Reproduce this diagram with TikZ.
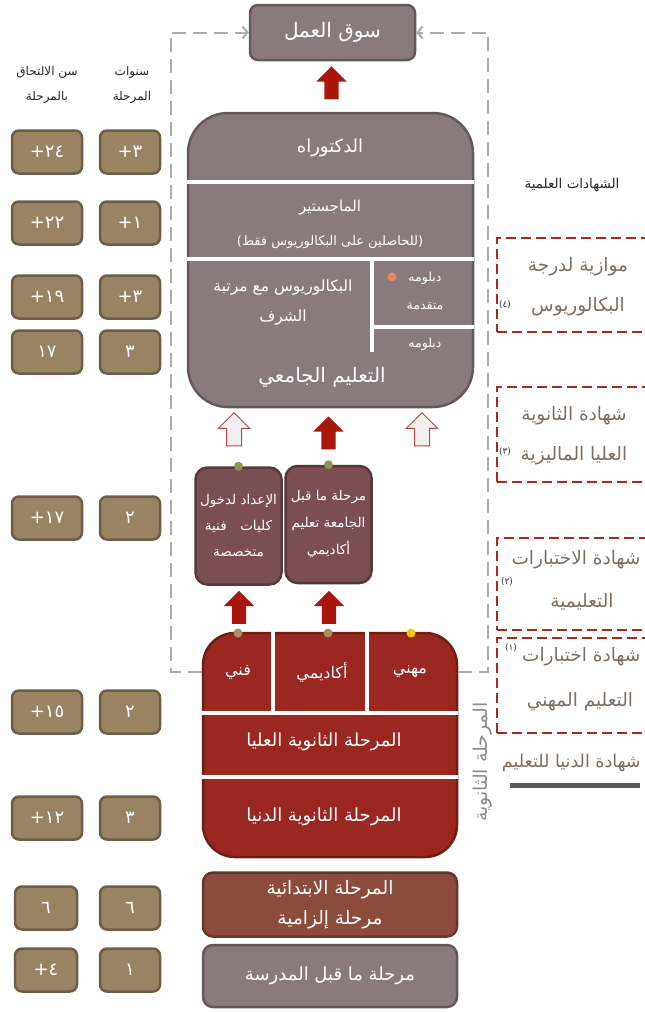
\documentclass[tikz,border=0pt]{standalone}
\usepackage{fontspec}
\newfontfamily\arabicfont[Script=Arabic]{DejaVu Sans}
\TeXXeTstate=1
\usetikzlibrary{arrows.meta,calc,shapes.arrows}
\definecolor{uniC}{RGB}{137,123,125}
\definecolor{prepC}{RGB}{122,78,82}
\definecolor{secC}{RGB}{155,40,32}
\definecolor{primC}{RGB}{140,76,60}
\definecolor{yearC}{RGB}{152,131,99}
\definecolor{arrowC}{RGB}{168,22,12}
\definecolor{certC}{RGB}{166,42,32}
\definecolor{certtext}{RGB}{125,110,100}
\definecolor{loopC}{RGB}{172,172,172}
\definecolor{dotG}{RGB}{140,150,80}
\definecolor{dotT}{RGB}{170,145,100}
\definecolor{dotY}{RGB}{245,200,0}
\definecolor{dotO}{RGB}{235,130,90}
\newcommand{\ar}[1]{{\arabicfont\beginR #1\endR}}
\newcommand{\fsz}[2]{\fontsize{#1}{#2}\selectfont}

\begin{document}
\begin{tikzpicture}[x=1pt,y=-1pt,
  stage/.style={draw=#1!72!black,fill=#1,line width=2.5pt,inner sep=0pt,text=white,align=center},
  yearbox/.style={stage=yearC,rounded corners=7pt,minimum width=#1,minimum height=43pt,font=\arabicfont\fsz{18}{20}},
  divider/.style={white,line width=4pt},
  loopline/.style={loopC,line width=2pt,dash pattern=on 14pt off 7pt},
  uparrow/.style={single arrow,rotate=90,minimum height=33pt,inner sep=7pt,single arrow head extend=8pt,fill=arrowC},
  ghostarrow/.style={uparrow,fill=gray!12,draw=red!45!gray,line width=1pt},
  cert/.style={draw=certC,line width=2.5pt,dash pattern=on 10pt off 5pt,minimum width=165pt,minimum height=#1},
  certlbl/.style={text=certtext,align=center,font=\fsz{18.5}{40}},
  certnote/.style={text=black!80,font=\arabicfont\fsz{9}{10}},
  inlbl/.style={text=white,align=center},
  dot/.style={circle,inner sep=0pt,minimum size=9pt,fill=#1},
  hdr/.style={text=black!85,align=center,font=\fsz{12}{25}}]
\useasboundingbox (0,0) rectangle (645,1012);

% labour market
\node[stage=uniC,rounded corners=8pt,minimum width=165pt,minimum height=55pt,font=\fsz{20}{22}] (market) at (332.5,32.5) {\ar{سوق العمل}};

% university
\node[stage=uniC,rounded corners=40pt,minimum width=285pt,minimum height=294pt] (uni) at (330.5,260) {};
\draw[divider] (uni.west|-0,182) -- (uni.east|-0,182);
\draw[divider] (uni.west|-0,259) -- (uni.east|-0,259);
\draw[divider] (372,259) -- (372,352);
\draw[divider] (372,327) -- (uni.east|-0,327);
\node[inlbl,font=\fsz{18}{20}] (phd) at (330,148) {\ar{الدكتوراه}};
\node[inlbl,font=\fsz{13}{34}] (master) at (330,224) {{\fsz{15}{34}\ar{الماجستير}}\\\ar{(للحاصلين على البكالوريوس فقط)}};
\node[inlbl,font=\fsz{15.5}{30}] (honours) at (283,302) {\ar{البكالوريوس مع مرتبة}\\\ar{الشرف}};
\node[dot=dotO] (advdot) at (392,277) {};
\node[inlbl,font=\fsz{12.5}{28}] (advdip) at (425,291) {\ar{دبلومه}\\\ar{متقدمة}};
\node[inlbl,font=\fsz{12.5}{14}] (dip) at (425,344) {\ar{دبلومه}};
\node[inlbl,font=\fsz{20}{22}] (unititle) at (322,377) {\ar{التعليم الجامعي}};

% pre-university
\node[stage=prepC,rounded corners=12pt,minimum width=86pt,minimum height=117pt,font=\fsz{13.5}{26}] (preptech) at (238.5,526) {\ar{الإعداد لدخول}\\\ar{كليات\quad فنية}\\\ar{متخصصة}};
\node[stage=prepC,rounded corners=12pt,minimum width=86pt,minimum height=117pt,font=\fsz{13.5}{27}] (prepacad) at (328.5,524.5) {\ar{مرحلة ما قبل}\\\ar{الجامعة تعليم}\\\ar{أكاديمي}};
\node[dot=dotG] (techdot) at (preptech.north) {};
\node[dot=dotG] (acaddot) at (prepacad.north) {};

% arrows
\node[uparrow] (toMarket) at ($(uni.north)!0.5!(market.south)$) {};
\node[uparrow] (toUni) at ($(prepacad.north)!0.5!(prepacad.north|-uni.south)$) {};
\node[ghostarrow] (toUniL) at (234,433) {};
\node[ghostarrow] (toUniR) at (422,433) {};
\node[uparrow] (toTech) at (239,611) {};
\node[uparrow] (toAcad) at (329,611) {};

% secondary
\node[stage=secC,rounded corners=32pt,minimum width=254pt,minimum height=224pt] (sec) at (330,745) {};
\draw[divider] (273,631) -- (273,713);
\draw[divider] (367,631) -- (367,713);
\draw[divider] (sec.west|-0,713) -- (sec.east|-0,713);
\draw[divider] (sec.west|-0,777) -- (sec.east|-0,777);
\node[inlbl,font=\fsz{16}{18}] (fani) at (238,672) {\ar{فني}};
\node[inlbl,font=\fsz{16}{18}] (akadimi) at (322,672) {\ar{أكاديمي}};
\node[inlbl,font=\fsz{16}{18}] (mihani) at (410,672) {\ar{مهني}};
\node[inlbl,font=\fsz{18}{20}] (upper) at (324,742) {\ar{المرحلة الثانوية العليا}};
\node[inlbl,font=\fsz{18}{20}] (lower) at (324,817) {\ar{المرحلة الثانوية الدنيا}};
\node[dot=dotT] (fanidot) at (238,633) {};
\node[dot=dotT] (akadot) at (328,633) {};
\node[dot=dotY] (mihdot) at (411,633) {};
\node[text=black!45,rotate=90,font=\fsz{19}{21}] (sectag) at (483,762) {\ar{المرحلة الثانوية}};

% feedback to the market
\draw[loopline,-{Straight Barb[length=5pt,width=12pt]}] (sec.west|-fani) -- ++(-31,0) |- (market.west);
\draw[loopline,-{Straight Barb[length=5pt,width=12pt]}] (sec.east|-mihani) -- ++(30,0) |- (market.east);

% primary and pre-school
\node[stage=primC,rounded corners=10pt,minimum width=254pt,minimum height=64pt,font=\fsz{18.5}{30}] (prim) at (330,904.5) {\ar{المرحلة الابتدائية}\\\ar{مرحلة إلزامية}};
\node[stage=uniC,rounded corners=10pt,minimum width=254pt,minimum height=62pt,font=\fsz{18}{20}] (presch) at (330,976) {\ar{مرحلة ما قبل المدرسة}};

% years and ages
\node[hdr] (yrshdr) at (132,85) {\ar{سنوات}\\\ar{المرحلة}};
\node[hdr] (agehdr) at (47,85) {\ar{سن الالتحاق}\\\ar{بالمرحلة}};
\node[yearbox=60pt] (yrs1) at (130,152) {٣+};
\node[yearbox=70pt] (age1) at (47,152) {٢٤+};
\node[yearbox=60pt] (yrs2) at (130,223) {١+};
\node[yearbox=70pt] (age2) at (47,223) {٢٢+};
\node[yearbox=60pt] (yrs3) at (130,297) {٣+};
\node[yearbox=70pt] (age3) at (47,297) {١٩+};
\node[yearbox=60pt] (yrs4) at (130,352) {٣};
\node[yearbox=70pt] (age4) at (47,352) {١٧};
\node[yearbox=60pt] (yrs5) at (130,518) {٢};
\node[yearbox=70pt] (age5) at (47,518) {١٧+};
\node[yearbox=60pt] (yrs6) at (130,712) {٢};
\node[yearbox=70pt] (age6) at (47,712) {١٥+};
\node[yearbox=60pt] (yrs7) at (130,818) {٣};
\node[yearbox=70pt] (age7) at (47,818) {١٢+};
\node[yearbox=60pt] (yrs8) at (130,908) {٦};
\node[yearbox=62pt] (age8) at (46,908) {٦};
\node[yearbox=60pt] (yrs9) at (130,970) {١};
\node[yearbox=62pt] (age9) at (46,970) {٤+};

% certificates
\node[hdr,font=\fsz{13.5}{15}] (certhdr) at (572,185) {\ar{الشهادات العلمية}};
\node[cert=94pt] (cert4) at (579.5,285) {};
\node[certlbl] (cert4txt) at (578,287) {\ar{موازية لدرجة}\\\ar{البكالوريوس}};
\node[certnote] (note4) at (505,305) {(٤)};
\node[cert=95pt] (cert3) at (579.5,434.5) {};
\node[certlbl] (cert3txt) at (574,436) {\ar{شهادة الثانوية}\\\ar{العليا الماليزية}};
\node[certnote] (note3) at (505,452) {(٣)};
\node[cert=92pt] (cert2) at (579.5,584) {};
\node[certlbl,anchor=east] (cert2a) at (644,560) {\ar{شهادة الاختبارات}};
\node[certlbl] (cert2b) at (582,602) {\ar{التعليمية}};
\node[certnote] (note2) at (507,582) {(٢)};
\node[cert=95pt] (cert1) at (579.5,685.5) {};
\node[certlbl,anchor=east] (cert1a) at (644,657) {\ar{شهادة اختبارات}};
\node[certlbl] (cert1b) at (580,702) {\ar{التعليم المهني}};
\node[certnote] (note1) at (511,648) {(١)};
\node[certlbl,anchor=east,font=\fsz{17.5}{20}] (lowcert) at (644,763) {\ar{شهادة الدنيا للتعليم}};
\draw[line width=5pt,black!65] (510,785) -- (640,785);
\end{tikzpicture}
\end{document}
